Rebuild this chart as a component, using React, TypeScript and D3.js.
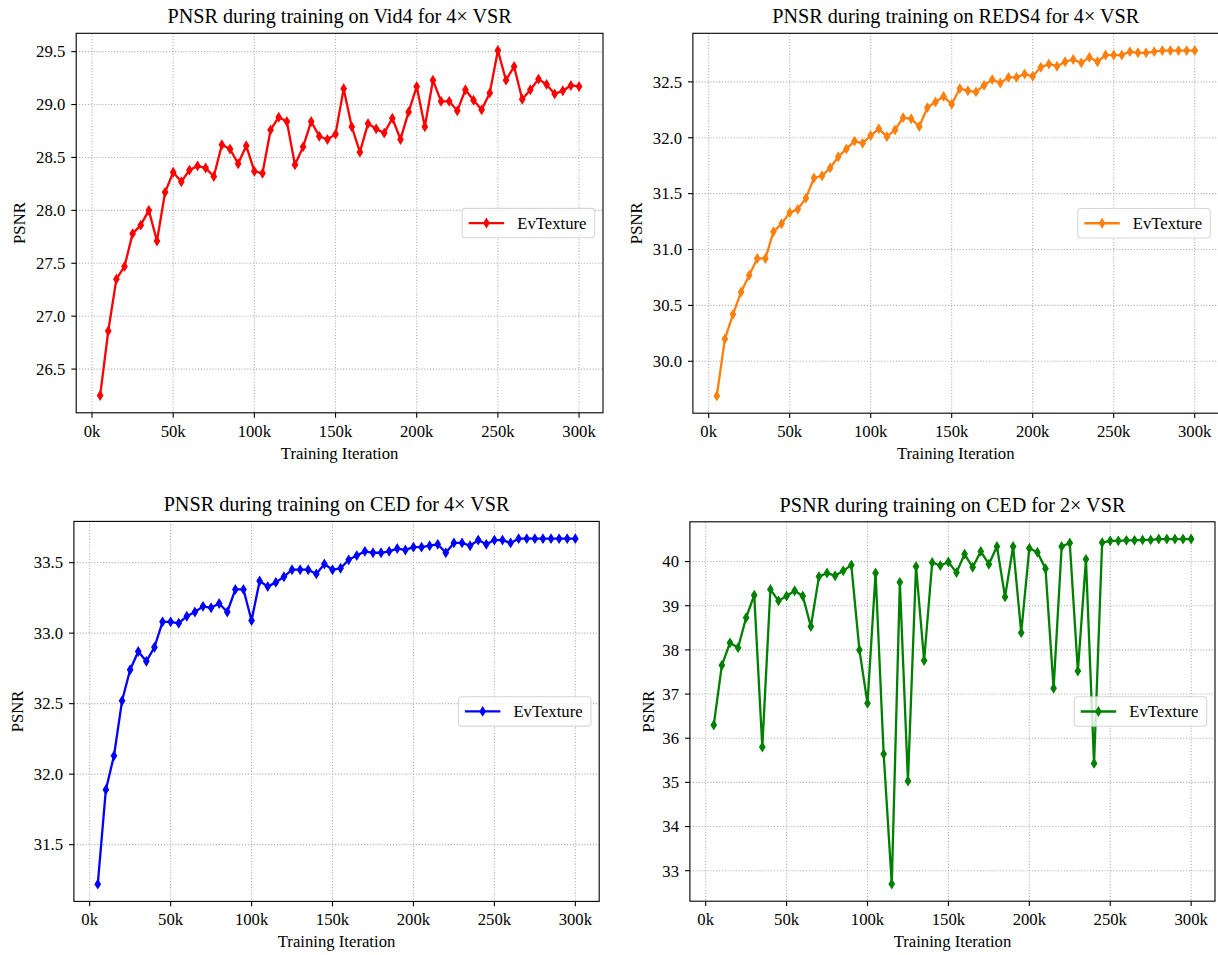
import React from 'react';
import * as d3 from 'd3';

// Training iterations (in thousands)
const iterations = [
  5, 10, 15, 20, 25, 30, 35, 40, 45, 50,
  55, 60, 65, 70, 75, 80, 85, 90, 95, 100,
  105, 110, 115, 120, 125, 130, 135, 140, 145, 150,
  155, 160, 165, 170, 175, 180, 185, 190, 195, 200,
  205, 210, 215, 220, 225, 230, 235, 240, 245, 250,
  255, 260, 265, 270, 275, 280, 285, 290, 295, 300,
];

const vid4Psnr = [
  26.25, 26.86, 27.35, 27.47, 27.78, 27.86, 28.00, 27.71, 28.17, 28.36,
  28.27, 28.38, 28.42, 28.40, 28.32, 28.62, 28.58, 28.44, 28.61, 28.37,
  28.35, 28.76, 28.88, 28.84, 28.43, 28.60, 28.84, 28.70, 28.67, 28.72,
  29.15, 28.79, 28.55, 28.82, 28.77, 28.73, 28.87, 28.67, 28.93, 29.17,
  28.79, 29.23, 29.03, 29.03, 28.94, 29.14, 29.04, 28.95, 29.11, 29.51,
  29.23, 29.36, 29.05, 29.14, 29.24, 29.19, 29.10, 29.13, 29.18, 29.17,
];

const reds4Psnr = [
  29.69, 30.20, 30.42, 30.62, 30.77, 30.92, 30.92, 31.16, 31.23, 31.33,
  31.36, 31.46, 31.64, 31.66, 31.73, 31.83, 31.90, 31.97, 31.95, 32.02,
  32.08, 32.01, 32.07, 32.18, 32.17, 32.10, 32.27, 32.32, 32.37, 32.30,
  32.44, 32.42, 32.41, 32.47, 32.52, 32.49, 32.54, 32.54, 32.57, 32.55,
  32.63, 32.66, 32.64, 32.68, 32.70, 32.67, 32.72, 32.68, 32.74, 32.74,
  32.74, 32.77, 32.76, 32.76, 32.77, 32.78, 32.78, 32.78, 32.78, 32.78,
];

const ced4Psnr = [
  31.22, 31.89, 32.13, 32.52, 32.74, 32.87, 32.80, 32.90, 33.08, 33.08,
  33.07, 33.12, 33.15, 33.19, 33.18, 33.21, 33.15, 33.31, 33.31, 33.09,
  33.37, 33.33, 33.36, 33.40, 33.45, 33.45, 33.45, 33.42, 33.49, 33.45,
  33.46, 33.52, 33.55, 33.58, 33.57, 33.57, 33.58, 33.60, 33.59, 33.61,
  33.61, 33.62, 33.63, 33.57, 33.64, 33.64, 33.62, 33.66, 33.63, 33.66,
  33.66, 33.64, 33.67, 33.67, 33.67, 33.67, 33.67, 33.67, 33.67, 33.67,
];

const ced2Psnr = [
  36.30, 37.65, 38.16, 38.05, 38.73, 39.24, 35.80, 39.37, 39.11, 39.22,
  39.34, 39.22, 38.53, 39.66, 39.74, 39.68, 39.79, 39.92, 38.00, 36.79,
  39.74, 35.64, 32.70, 39.53, 35.03, 39.89, 37.76, 39.98, 39.91, 39.99,
  39.75, 40.17, 39.87, 40.23, 39.94, 40.34, 39.20, 40.34, 38.39, 40.30,
  40.21, 39.84, 37.13, 40.34, 40.42, 37.52, 40.05, 35.43, 40.43, 40.47,
  40.47, 40.48, 40.48, 40.49, 40.49, 40.51, 40.51, 40.51, 40.51, 40.51,
];

const xTicks = [0, 50, 100, 150, 200, 250, 300];
const vid4Ticks = [26.5, 27.0, 27.5, 28.0, 28.5, 29.0, 29.5];
const reds4Ticks = [30.0, 30.5, 31.0, 31.5, 32.0, 32.5];
const ced4Ticks = [31.5, 32.0, 32.5, 33.0, 33.5];
const ced2Ticks = [33, 34, 35, 36, 37, 38, 39, 40];

const titles = [
  'PNSR during training on Vid4 for 4\u00d7 VSR',
  'PNSR during training on REDS4 for 4\u00d7 VSR',
  'PNSR during training on CED for 4\u00d7 VSR',
  'PSNR during training on CED for 2\u00d7 VSR',
];
const seriesName = 'EvTexture';
const xLabel = 'Training Iteration';
const yLabel = 'PSNR';

const FONT = "'Liberation Serif', 'Times New Roman', Times, serif";

const panels = [
  { title: titles[0], values: vid4Psnr, yTicks: vid4Ticks, fmt: d3.format('.1f'), color: '#ff0000', box: { l: 76.2, r: 603, t: 33.3, b: 412.8 } },
  { title: titles[1], values: reds4Psnr, yTicks: reds4Ticks, fmt: d3.format('.1f'), color: '#ff7f0e', box: { l: 692.9, r: 1218.6, t: 33.3, b: 413.2 } },
  { title: titles[2], values: ced4Psnr, yTicks: ced4Ticks, fmt: d3.format('.1f'), color: '#0000ff', box: { l: 73.9, r: 599.2, t: 521.4, b: 901.4 } },
  { title: titles[3], values: ced2Psnr, yTicks: ced2Ticks, fmt: d3.format('d'), color: '#008000', box: { l: 689.9, r: 1215, t: 521.8, b: 901.2 } },
];

const diamond = (cx: number, cy: number) => {
  const hw = 2.6, hh = 4.2;
  return `M${cx},${cy - hh}L${cx + hw},${cy}L${cx},${cy + hh}L${cx - hw},${cy}Z`;
};

function Panel({ p }: { p: any }) {
  const { l, r, t, b } = p.box;
  const xMin = d3.min(iterations) as number;
  const xMax = d3.max(iterations) as number;
  const xPad = (xMax - xMin) * 0.05;
  const x = d3.scaleLinear().domain([xMin - xPad, xMax + xPad]).range([l, r]);
  const [yMin, yMax] = d3.extent(p.values as number[]) as [number, number];
  const yPad = (yMax - yMin) * 0.05;
  const y = d3.scaleLinear().domain([yMin - yPad, yMax + yPad]).range([b, t]);
  const line = d3.line<number>().x((_, i) => x(iterations[i])).y((d) => y(d));
  const cx = (l + r) / 2;
  const cy = (t + b) / 2;
  const tickLen = 4.9;
  const gridStyle = { stroke: '#b0b0b0', strokeWidth: 1.1, strokeDasharray: '1.1,1.8' };
  const maxLabelW = d3.max(p.yTicks as number[], (v: number) => p.fmt(v).length) as number;
  const yLabelX = l - tickLen - 5 - maxLabelW * 7.6 - 11;

  // legend geometry
  const legW = 132.5;
  const legH = 29.4;
  const legR = r - 8.3;
  const legL = legR - legW;
  const legT = cy - legH / 2;
  const hx0 = legL + 6.5;
  const hx1 = hx0 + 35.5;

  return (
    <g>
      {xTicks.map((v) => (
        <line key={'gx' + v} x1={x(v)} x2={x(v)} y1={t} y2={b} {...gridStyle} />
      ))}
      {p.yTicks.map((v: number) => (
        <line key={'gy' + v} x1={l} x2={r} y1={y(v)} y2={y(v)} {...gridStyle} />
      ))}
      <path d={line(p.values) || ''} fill="none" stroke={p.color} strokeWidth={2.3} strokeLinejoin="round" strokeLinecap="square" />
      {p.values.map((v: number, i: number) => (
        <path key={'m' + i} d={diamond(x(iterations[i]), y(v))} fill={p.color} stroke={p.color} strokeWidth={1.3} />
      ))}
      <rect x={l} y={t} width={r - l} height={b - t} fill="none" stroke="#000" strokeWidth={1.1} />
      {xTicks.map((v) => (
        <g key={'xt' + v}>
          <line x1={x(v)} x2={x(v)} y1={b} y2={b + tickLen} stroke="#000" strokeWidth={1.1} />
          <text x={x(v)} y={b + 24} textAnchor="middle" fontSize={16.7} fontFamily={FONT} fill="#000">{v + 'k'}</text>
        </g>
      ))}
      {p.yTicks.map((v: number) => (
        <g key={'yt' + v}>
          <line x1={l - tickLen} x2={l} y1={y(v)} y2={y(v)} stroke="#000" strokeWidth={1.1} />
          <text x={l - tickLen - 6} y={y(v)} dy="0.35em" textAnchor="end" fontSize={16.7} fontFamily={FONT} fill="#000">{p.fmt(v)}</text>
        </g>
      ))}
      <text x={cx} y={b + 46} textAnchor="middle" fontSize={16.7} fontFamily={FONT} fill="#000">{xLabel}</text>
      <text transform={`translate(${yLabelX},${cy}) rotate(-90)`} textAnchor="middle" fontSize={16.7} fontFamily={FONT} fill="#000">{yLabel}</text>
      <text x={cx} y={t - 10.3} textAnchor="middle" fontSize={20.2} fontFamily={FONT} fill="#000">{p.title}</text>
      <rect x={legL} y={legT} width={legW} height={legH} rx={3.3} ry={3.3} fill="rgba(255,255,255,0.8)" stroke="rgba(204,204,204,0.8)" strokeWidth={1.1} />
      <line x1={hx0} x2={hx1} y1={cy} y2={cy} stroke={p.color} strokeWidth={2.3} />
      <path d={diamond((hx0 + hx1) / 2, cy)} fill={p.color} stroke={p.color} strokeWidth={1.3} />
      <text x={hx1 + 13} y={cy} dy="0.35em" fontSize={16.7} fontFamily={FONT} fill="#000">{seriesName}</text>
    </g>
  );
}

export default function App() {
  return (
    <svg width={1218} height={955} style={{ position: 'absolute', left: 0, top: 0, background: '#fff' }}>
      <rect x={0} y={0} width={1218} height={955} fill="#fff" />
      {panels.map((p, i) => (
        <Panel key={i} p={p} />
      ))}
    </svg>
  );
}
